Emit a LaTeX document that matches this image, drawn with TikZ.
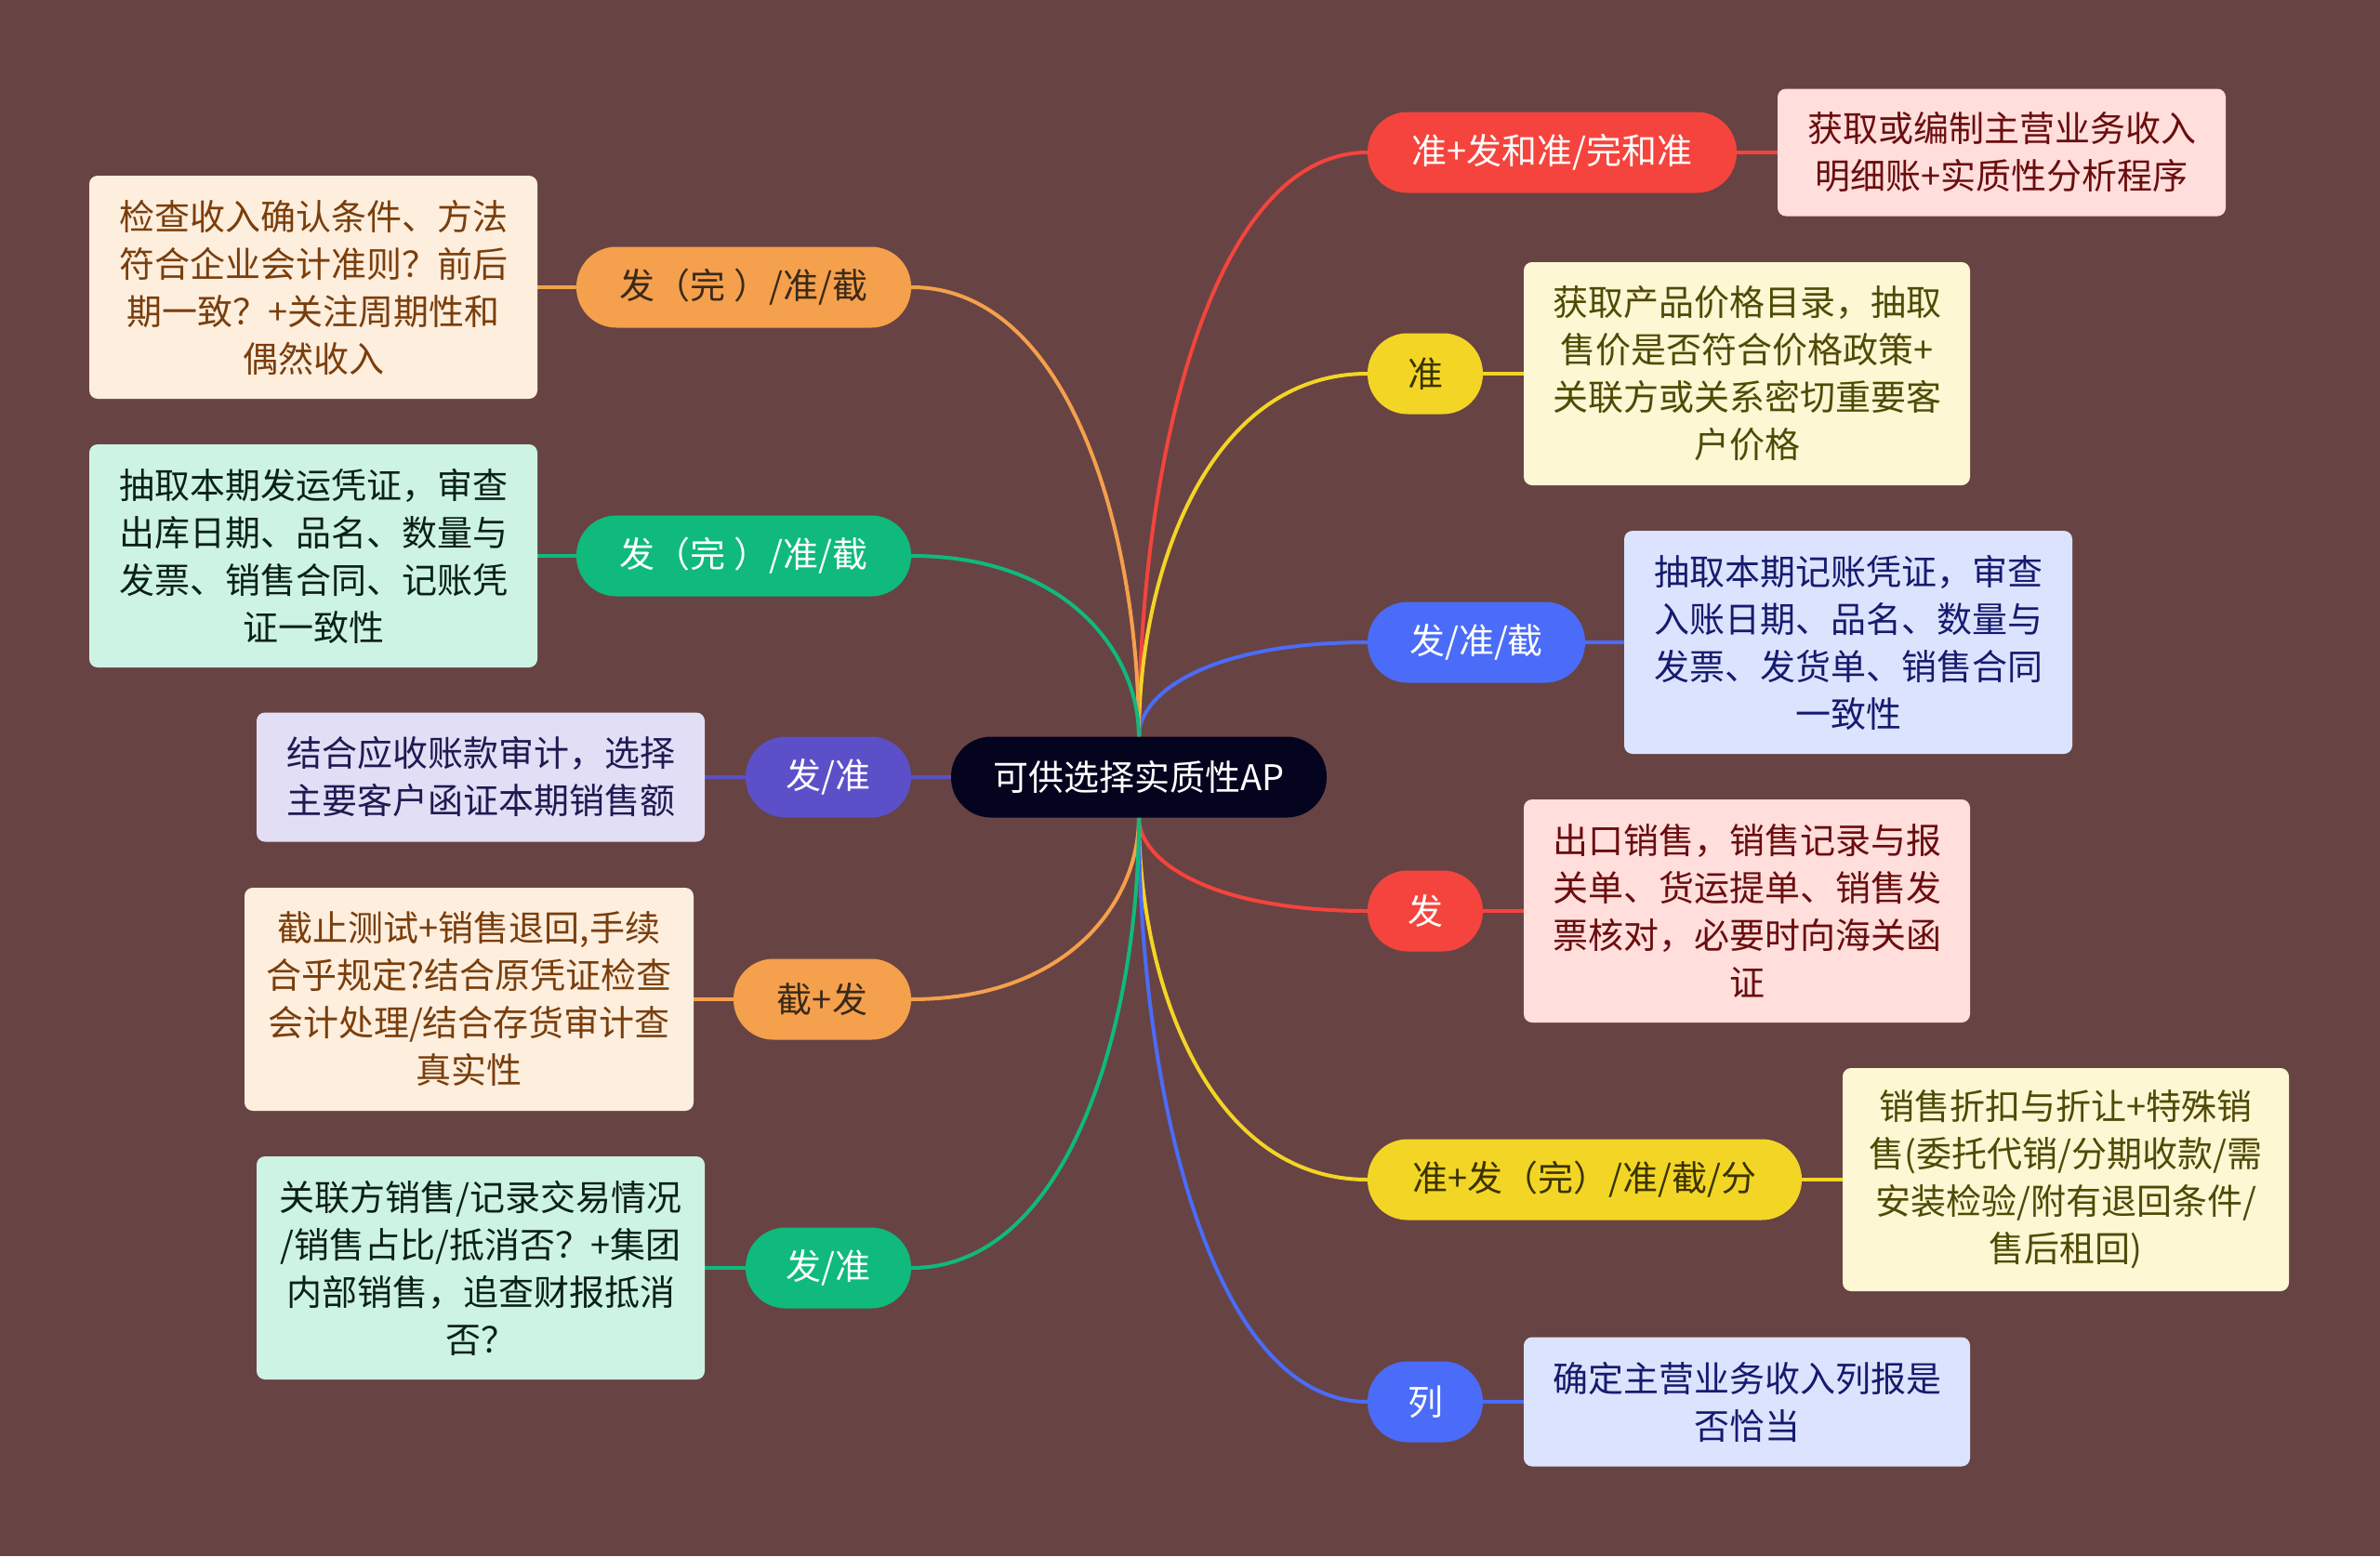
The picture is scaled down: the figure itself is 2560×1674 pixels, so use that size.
\documentclass[tikz,border=0pt]{standalone}
\usepackage{fontspec}
\newfontfamily\cjk{Noto Sans CJK SC}
\usetikzlibrary{backgrounds}
\definecolor{bgc}{HTML}{684343}
\definecolor{ctr}{HTML}{04041F}
\definecolor{corange}{HTML}{F5A04C}
\definecolor{cgreen}{HTML}{0FBA7C}
\definecolor{cpurple}{HTML}{5B50C8}
\definecolor{cred}{HTML}{F5443D}
\definecolor{cyellow}{HTML}{F3D526}
\definecolor{cblue}{HTML}{4A6CF8}
\definecolor{fpeach}{HTML}{FEEEDE}\definecolor{tpeach}{HTML}{7A3E0B}
\definecolor{fmint}{HTML}{CDF3E4}\definecolor{tmint}{HTML}{0B2118}
\definecolor{flav}{HTML}{E1DEF6}\definecolor{tlav}{HTML}{1E1A52}
\definecolor{fpink}{HTML}{FFDEDC}\definecolor{tpink}{HTML}{6A0D0D}
\definecolor{fcream}{HTML}{FDF7D3}\definecolor{tcream}{HTML}{4F4A05}
\definecolor{flblue}{HTML}{DCE3FE}\definecolor{tlblue}{HTML}{151B6E}
\definecolor{tdark}{HTML}{3A2A1A}
\definecolor{tolive}{HTML}{3A3300}
\tikzset{
  mmfont/.style={font=\cjk\fontsize{38}{51}\selectfont},
  mmpill/.style={mmfont, rounded corners=43pt, minimum height=87pt, inner sep=0pt},
  mmbox/.style={mmfont, rounded corners=9pt, inner sep=0pt, align=center},
  mmlink/.style={line width=4pt},
}
\begin{document}
\begin{tikzpicture}[x=1pt,y=-1pt]
\useasboundingbox (0,0) rectangle (2560,1674);
% central
\node[mmpill, fill=ctr, text=white, minimum width=404pt] (c) at (1225,836) {可供选择实质性AP};
% left pills
\node[mmpill, fill=corange, text=tdark, minimum width=360pt] (l1) at (800,309) {发（完 ）/准/截};
\node[mmpill, fill=cgreen, text=white, minimum width=360pt] (l2) at (800,598) {发（完 ）/准/截};
\node[mmpill, fill=cpurple, text=white, minimum width=178pt] (l3) at (891,836) {发/准};
\node[mmpill, fill=corange, text=tdark, minimum width=191pt] (l4) at (884.5,1075) {截+发};
\node[mmpill, fill=cgreen, text=white, minimum width=178pt] (l5) at (891,1364) {发/准};
% right pills
\node[mmpill, fill=cred, text=white, minimum width=397pt] (r1) at (1669.5,164) {准+发和准/完和准};
\node[mmpill, fill=cyellow, text=tolive, minimum width=124pt] (r2) at (1533,402) {准};
\node[mmpill, fill=cblue, text=white, minimum width=234pt] (r3) at (1588,691) {发/准/截};
\node[mmpill, fill=cred, text=white, minimum width=124pt] (r4) at (1533,980) {发};
\node[mmpill, fill=cyellow, text=tolive, minimum width=467pt] (r5) at (1704.5,1269) {准+发（完）/准/截/分};
\node[mmpill, fill=cblue, text=white, minimum width=124pt] (r6) at (1533,1508) {列};
% left boxes
\node[mmbox, fill=fpeach, text=tpeach, minimum width=482pt, minimum height=240pt] (b1) at (337,309)
  {检查收入确认条件、方法\\符合企业会计准则？前后\\期一致？+关注周期性和\\偶然收入};
\node[mmbox, fill=fmint, text=tmint, minimum width=482pt, minimum height=240pt] (b2) at (337,598)
  {抽取本期发运凭证，审查\\出库日期、品名、数量与\\发票、销售合同、记账凭\\证一致性};
\node[mmbox, fill=flav, text=tlav, minimum width=482pt, minimum height=139pt] (b3) at (517,836)
  {结合应收账款审计，选择\\主要客户函证本期销售额};
\node[mmbox, fill=fpeach, text=tpeach, minimum width=483pt, minimum height=240pt] (b4) at (504.5,1075)
  {截止测试+销售退回,手续\\合乎规定?结合原凭证检查\\会计处理/结合存货审计查\\真实性};
\node[mmbox, fill=fmint, text=tmint, minimum width=482pt, minimum height=240pt] (b5) at (517,1364)
  {关联方销售/记录交易情况\\/销售占比/抵消否？+集团\\内部销售，追查财报抵消\\否？};
% right boxes
\node[mmbox, fill=fpink, text=tpink, minimum width=482pt, minimum height=137pt] (d1) at (2153,164)
  {获取或编制主营业务收入\\明细账+实质性分析程序};
\node[mmbox, fill=fcream, text=tcream, minimum width=480pt, minimum height=240pt] (d2) at (1879,402)
  {获取产品价格目录，抽取\\售价是否符合价格政策+\\关联方或关系密切重要客\\户价格};
\node[mmbox, fill=flblue, text=tlblue, minimum width=482pt, minimum height=240pt] (d3) at (1988,691)
  {抽取本期记账凭证，审查\\入账日期、品名、数量与\\发票、发货单、销售合同\\一致性};
\node[mmbox, fill=fpink, text=tpink, minimum width=480pt, minimum height=240pt] (d4) at (1879,980)
  {出口销售，销售记录与报\\关单、货运提单、销售发\\票核对，必要时向海关函\\证};
\node[mmbox, fill=fcream, text=tcream, minimum width=480pt, minimum height=240pt] (d5) at (2222,1269)
  {销售折扣与折让+特殊销\\售(委托代销/分期收款/需\\安装检验/附有退回条件/\\售后租回)};
\node[mmbox, fill=flblue, text=tlblue, minimum width=480pt, minimum height=139pt] (d6) at (1879,1508)
  {确定主营业务收入列报是\\否恰当};
\begin{scope}[on background layer]
\fill[bgc] (0,0) rectangle (2560,1674);
% main branches
\draw[mmlink, cred]    (c.north) .. controls (1225,509) and (1299,164) .. (r1.west);
\draw[mmlink, cyellow] (c.north) .. controls (1225,616) and (1299,402) .. (r2.west);
\draw[mmlink, cblue]   (c.north) .. controls (1225,746) and (1299,691) .. (r3.west);
\draw[mmlink, cred]    (c.south) .. controls (1225,925) and (1299,980) .. (r4.west);
\draw[mmlink, cyellow] (c.south) .. controls (1225,1055) and (1299,1269) .. (r5.west);
\draw[mmlink, cblue]   (c.south) .. controls (1225,1163) and (1299,1508) .. (r6.west);
\draw[mmlink, corange] (c.north) .. controls (1225,575) and (1151,309) .. (l1.east);
\draw[mmlink, cgreen]  (c.north) .. controls (1225,705) and (1151,598) .. (l2.east);
\draw[mmlink, cpurple] (c.west) -- (l3.east);
\draw[mmlink, corange] (c.south) .. controls (1225,968) and (1151,1075) .. (l4.east);
\draw[mmlink, cgreen]  (c.south) .. controls (1225,1098) and (1151,1364) .. (l5.east);
% pill to box
\draw[mmlink, corange] (l1.west) -- (b1.east);
\draw[mmlink, cgreen]  (l2.west) -- (b2.east);
\draw[mmlink, cpurple] (l3.west) -- (b3.east);
\draw[mmlink, corange] (l4.west) -- (b4.east);
\draw[mmlink, cgreen]  (l5.west) -- (b5.east);
\draw[mmlink, cred]    (r1.east) -- (d1.west);
\draw[mmlink, cyellow] (r2.east) -- (d2.west);
\draw[mmlink, cblue]   (r3.east) -- (d3.west);
\draw[mmlink, cred]    (r4.east) -- (d4.west);
\draw[mmlink, cyellow] (r5.east) -- (d5.west);
\draw[mmlink, cblue]   (r6.east) -- (d6.west);
\end{scope}
\end{tikzpicture}
\end{document}
